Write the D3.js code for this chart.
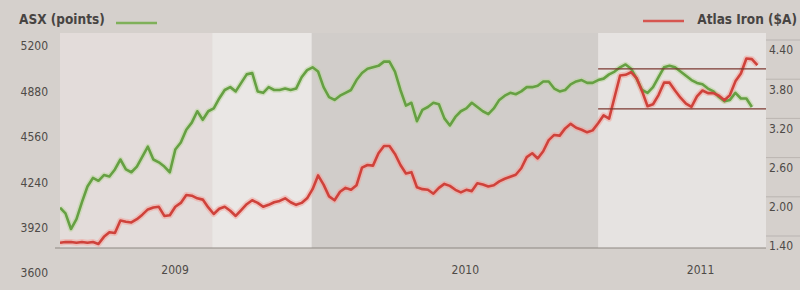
<!DOCTYPE html>
<html>
<head>
<meta charset="utf-8">
<script src="https://cdn.jsdelivr.net/npm/d3@7"></script>
<style>
  body { margin: 0; background: #d5d0cc; }
  svg { display: block; font-family: "DejaVu Sans Condensed", "DejaVu Sans", sans-serif; }
</style>
</head>
<body>
<svg id="chart" width="800" height="290"></svg>
<script>
// weekly closes, first week starting on startDate
const startDate = '2009-02-14';
const endDate = '2011-08-03';

const asx = [
  4060, 4020, 3910, 3980, 4100, 4210, 4270, 4250, 4290, 4280,
  4330, 4400, 4330, 4310, 4350, 4420, 4490, 4400, 4380, 4350,
  4310, 4470, 4520, 4610, 4660, 4740, 4680, 4740, 4760, 4830,
  4890, 4910, 4880, 4940, 5000, 5010, 4880, 4870, 4910, 4890,
  4890, 4900, 4890, 4900, 4980, 5030, 5050, 5020, 4910, 4840,
  4820, 4850, 4870, 4890, 4960, 5010, 5040, 5050, 5060, 5090,
  5090, 5020, 4890, 4780, 4800, 4670, 4750, 4770, 4800, 4790,
  4690, 4640, 4700, 4740, 4760, 4800, 4770, 4740, 4720, 4760,
  4820, 4850, 4870, 4860, 4880, 4910, 4910, 4920, 4950, 4950,
  4900, 4880, 4890, 4930, 4950, 4960, 4940, 4940, 4960, 4970,
  5000, 5020, 5050, 5070, 5040, 4970, 4890, 4870, 4910, 4980,
  5050, 5060, 5050, 5020, 4990, 4960, 4940, 4930, 4900, 4880,
  4840, 4810, 4820, 4870, 4830, 4830, 4770
];

const atlas = [
  1.45, 1.46, 1.46, 1.45, 1.46, 1.45, 1.46, 1.43, 1.54, 1.61,
  1.60, 1.79, 1.77, 1.76, 1.81, 1.88, 1.96, 1.99, 2.00, 1.86,
  1.87, 2.00, 2.06, 2.18, 2.17, 2.13, 2.11, 1.99, 1.89, 1.97,
  2.00, 1.94, 1.86, 1.95, 2.04, 2.10, 2.06, 2.00, 2.03, 2.07,
  2.09, 2.13, 2.07, 2.03, 2.06, 2.13, 2.27, 2.48, 2.34, 2.16,
  2.10, 2.23, 2.29, 2.26, 2.33, 2.60, 2.64, 2.63, 2.82, 2.93,
  2.93, 2.81, 2.64, 2.51, 2.53, 2.30, 2.27, 2.26, 2.20, 2.29,
  2.35, 2.32, 2.26, 2.22, 2.26, 2.24, 2.36, 2.34, 2.31, 2.33,
  2.39, 2.43, 2.46, 2.49, 2.59, 2.76, 2.82, 2.74, 2.85, 3.02,
  3.10, 3.09, 3.20, 3.27, 3.21, 3.18, 3.14, 3.17, 3.28, 3.40,
  3.35, 3.68, 4.01, 4.02, 4.06, 3.97, 3.77, 3.54, 3.57, 3.71,
  3.90, 3.90, 3.78, 3.67, 3.58, 3.53, 3.69, 3.78, 3.74, 3.74,
  3.70, 3.63, 3.71, 3.92, 4.04, 4.27, 4.26, 4.17
];

const bandEdges = ['2009-02-14', '2009-08-27', '2010-01-01', '2011-01-01', '2011-08-03'];
const bandFills = ['#e3dcda', '#eae7e5', '#d1cdca', '#e6e3e1'];

// trading range drawn over the Atlas Iron line
const channelStart = '2011-01-01';
const channelLevels = [4.11, 3.50];

const asxTicks = [3600, 3920, 4240, 4560, 4880, 5200];
const atlasTicks = [1.40, 2.00, 2.60, 3.20, 3.80, 4.40];
const yearLabels = ['2009', '2010', '2011'];
const yearLabelDates = ['2009-07-10', '2010-07-15', '2011-05-11'];

const parse = d3.timeParse('%Y-%m-%d');
const t0 = parse(startDate);
const weekOf = i => d3.timeDay.offset(t0, 7 * i);

const svg = d3.select('#chart');
const plotL = 60, plotR = 766, plotT = 33, plotB = 248;

const x = d3.scaleTime().domain([t0, parse(endDate)]).range([plotL, plotR]);
const yAsx = d3.scaleLinear().domain([3600, 5200]).range([273, 46]);
const yAtlas = d3.scaleLinear().domain([1.40, 4.40]).range([246, 50]);

svg.append('rect').attr('width', 800).attr('height', 290).attr('fill', '#d5d0cc');

// background bands
svg.append('g').selectAll('rect')
  .data(bandFills)
  .join('rect')
  .attr('x', (d, i) => x(parse(bandEdges[i])))
  .attr('width', (d, i) => x(parse(bandEdges[i + 1])) - x(parse(bandEdges[i])))
  .attr('y', plotT)
  .attr('height', plotB - plotT)
  .attr('fill', d => d);

// baseline
svg.append('line')
  .attr('x1', 55).attr('x2', plotR)
  .attr('y1', plotB).attr('y2', plotB)
  .attr('stroke', '#8d8782').attr('stroke-width', 1.2);

// small rules in the right margin above each label
svg.append('g').selectAll('line')
  .data(atlasTicks)
  .join('line')
  .attr('x1', plotR).attr('x2', 800)
  .attr('y1', d => yAtlas(d) - 10).attr('y2', d => yAtlas(d) - 10)
  .attr('stroke', '#b0aaa6').attr('stroke-width', 0.7);

svg.append('clipPath').attr('id', 'plot')
  .append('rect').attr('x', plotL).attr('y', plotT).attr('width', plotR - plotL).attr('height', plotB - plotT);

const lineAsx = d3.line().x((d, i) => x(weekOf(i))).y(d => yAsx(d));
const lineAtlas = d3.line().x((d, i) => x(weekOf(i))).y(d => yAtlas(d));

const plot = svg.append('g').attr('clip-path', 'url(#plot)');

plot.append('path').datum(asx).attr('d', lineAsx)
  .attr('fill', 'none').attr('stroke', '#b7d598').attr('stroke-width', 5.5)
  .attr('stroke-opacity', 0.5).attr('stroke-linejoin', 'round');
plot.append('path').datum(atlas).attr('d', lineAtlas)
  .attr('fill', 'none').attr('stroke', '#f2a49c').attr('stroke-width', 6)
  .attr('stroke-opacity', 0.55).attr('stroke-linejoin', 'round');

plot.append('path').datum(asx).attr('d', lineAsx)
  .attr('fill', 'none').attr('stroke', '#66a043').attr('stroke-width', 2.6)
  .attr('stroke-linejoin', 'round');
plot.append('path').datum(atlas).attr('d', lineAtlas)
  .attr('fill', 'none').attr('stroke', '#cf423b').attr('stroke-width', 2.6)
  .attr('stroke-linejoin', 'round');

// channel lines
svg.append('g').selectAll('line')
  .data(channelLevels)
  .join('line')
  .attr('x1', x(parse(channelStart))).attr('x2', plotR)
  .attr('y1', d => yAtlas(d)).attr('y2', d => yAtlas(d))
  .attr('stroke', '#7d3a32').attr('stroke-width', 1.3);

// axes
const axL = svg.append('g').attr('transform', `translate(${plotL},0)`)
  .call(d3.axisLeft(yAsx).tickValues(asxTicks).tickSize(0).tickPadding(12).tickFormat(d3.format('d')));
const axR = svg.append('g').attr('transform', `translate(${plotR},0)`)
  .call(d3.axisRight(yAtlas).tickValues(atlasTicks).tickSize(0).tickPadding(3).tickFormat(d3.format('.2f')));
const axB = svg.append('g').attr('transform', `translate(0,${plotB})`)
  .call(d3.axisBottom(x).tickValues(yearLabelDates.map(parse)).tickSize(0).tickPadding(17)
    .tickFormat((d, i) => yearLabels[i]));

[axL, axR, axB].forEach(g => {
  g.select('.domain').remove();
  g.selectAll('text').attr('fill', '#4e4a47').attr('font-size', 12)
    .attr('font-family', '"DejaVu Sans Condensed", "DejaVu Sans", sans-serif');
});

// headers and legend keys
svg.append('text').attr('x', 19).attr('y', 24)
  .attr('font-size', 13.5).attr('font-weight', 'bold').attr('fill', '#474442')
  .text('ASX (points)');
svg.append('line').attr('x1', 116).attr('x2', 157).attr('y1', 23).attr('y2', 23)
  .attr('stroke', '#7fb05a').attr('stroke-width', 2.5);

svg.append('text').attr('x', 797).attr('y', 24).attr('text-anchor', 'end')
  .attr('font-size', 13.5).attr('font-weight', 'bold').attr('fill', '#474442')
  .text('Atlas Iron ($A)');
svg.append('line').attr('x1', 643).attr('x2', 684).attr('y1', 21).attr('y2', 21)
  .attr('stroke', '#d65650').attr('stroke-width', 2.5);
</script>
</body>
</html>
